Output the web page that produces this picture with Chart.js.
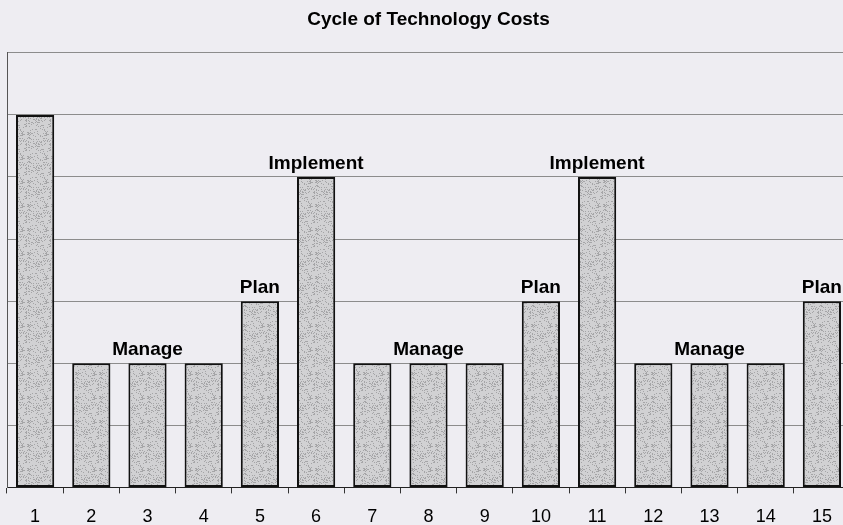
<!DOCTYPE html>
<html>
<head>
<meta charset="utf-8">
<script src="https://cdn.jsdelivr.net/npm/chart.js@4"></script>
<style>
  html, body { margin: 0; padding: 0; background: #eeedf2; overflow: hidden; }
  /* a little taller/wider than the window: the x axis reserves double tick padding below the labels */
  #wrap { width: 852px; height: 541px; }
</style>
</head>
<body>
<div id="wrap"><canvas id="chart"></canvas></div>
<script>
// cycle of technology costs

const periods = ["1", "2", "3", "4", "5", "6", "7", "8", "9", "10", "11", "12", "13", "14", "15"];
const costs = [6, 2, 2, 2, 3, 5, 2, 2, 2, 3, 5, 2, 2, 2, 3];
const phases = ["", "", "Manage", "", "Plan", "Implement", "", "Manage", "", "Plan", "Implement", "", "Manage", "", "Plan"];

// stippled grey fill, like the old print
const makeStipple = () => {
    const c = document.createElement("canvas");
    c.width = 24;
    c.height = 24;
    const g = c.getContext("2d");
    g.fillStyle = "#d1d1d3";
    g.fillRect(0, 0, 24, 24);
    let s = 7;
    for (let y = 0; y < 24; y++) {
        for (let x = 0; x < 24; x++) {
            s = (s * 1103515245 + 12345) % 2147483648;
            if (s % 5 === 0) {
                g.fillStyle = "#a5a5a7";
                g.fillRect(x, y, 1, 1);
            }
        }
    }
    return g.createPattern(c, "repeat");
};

const phaseLabels = {
    id: "phaseLabels",
    afterDatasetsDraw(chart) {
        const ctx = chart.ctx;
        const bars = chart.getDatasetMeta(0).data;
        ctx.save();
        ctx.font = "bold 19px 'Liberation Sans', Arial, sans-serif";
        ctx.fillStyle = "#000";
        ctx.textAlign = "center";
        ctx.textBaseline = "alphabetic";
        bars.forEach((bar, i) => {
            if (phases[i]) ctx.fillText(phases[i], bar.x, bar.y - 8);
        });
        ctx.restore();
    }
};

const ctx = document.getElementById("chart");

new Chart(ctx, {
    type: "bar",
    data: {
        labels: periods,
        datasets: [
            {
                data: costs,
                backgroundColor: makeStipple(),
                borderColor: "#111",
                borderWidth: 2,
                borderSkipped: false,
                barPercentage: 0.68,
                categoryPercentage: 1,
            },
        ],
    },
    options: {
        responsive: true,
        maintainAspectRatio: false,
        animation: false,
        layout: {
            padding: { left: 7, right: 2, top: 0, bottom: 0 }
        },
        plugins: {
            legend: { display: false },
            tooltip: { enabled: false },
            title: {
                display: true,
                text: "Cycle of Technology Costs",
                color: "#000",
                font: { family: "'Liberation Sans', Arial", size: 19, weight: "bold" },
                padding: { top: 8, bottom: 22 },
            },
        },
        scales: {
            x: {
                grid: {
                    offset: true,
                    drawOnChartArea: false,
                    color: "#333",
                    tickLength: 6,
                },
                border: { color: "#222", width: 1 },
                ticks: {
                    color: "#000",
                    padding: 13,
                    font: { family: "'Liberation Sans', Arial", size: 18 },
                },
            },
            y: {
                min: 0,
                max: 7,
                ticks: { display: false, stepSize: 1 },
                grid: { color: "#8c8c8c", lineWidth: 1, drawTicks: false },
                border: { color: "#555", width: 1 },
            },
        },
    },
    plugins: [phaseLabels],
});
</script>
</body>
</html>
